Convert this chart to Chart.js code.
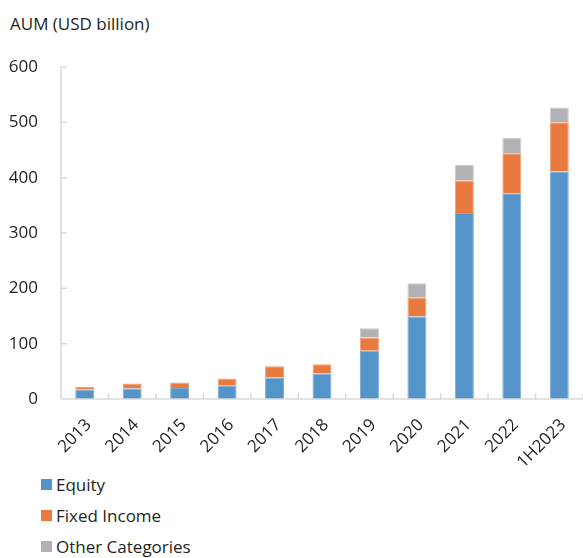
<!DOCTYPE html>
<html>
<head>
<meta charset="utf-8">
<script src="https://cdn.jsdelivr.net/npm/chart.js@4"></script>
<style>
  body { margin: 0; background: #fff; }
  #wrap { position: relative; width: 583px; height: 558px; font-family: "Open Sans", sans-serif; color: #231f20; }
  #box { position: absolute; left: 0; top: 0; width: 583px; height: 465px; }
  #title { position: absolute; left: 10px; top: 13px; font-size: 17px; line-height: 22px; }
  #legend { position: absolute; left: 41px; top: 469px; font-size: 17px; }
  .item { height: 31px; line-height: 24px; display: flex; align-items: center; }
  .item span.sw { display: inline-block; width: 11px; height: 11px; margin-right: 4px; }
</style>
</head>
<body>
<div id="wrap">
  <div id="title">AUM (USD billion)</div>
  <div id="box"><canvas id="myChart"></canvas></div>
  <div id="legend"></div>
</div>
<script>
// years on the x axis
const years = ['2013', '2014', '2015', '2016', '2017', '2018', '2019', '2020', '2021', '2022', '1H2023'];
// AUM by asset class, USD billion
const equity = [17, 19, 20, 24, 39, 46, 87, 149, 336, 372, 411];
const fixedIncome = [5, 9, 10, 13, 20, 17, 24, 34, 59, 72, 89];
const otherCategories = [0, 0, 0, 0, 0, 0, 17, 26, 28, 28, 27];
// y axis ticks
const yTicks = [0, 100, 200, 300, 400, 500, 600];

const axisColor = '#d9d9d9';
const textColor = '#231f20';

// short inner tick marks on both axes
const innerTicks = {
  id: 'innerTicks',
  afterDraw(chart) {
    const ctx = chart.ctx;
    const x = chart.scales.x;
    const y = chart.scales.y;
    const area = chart.chartArea;
    ctx.save();
    ctx.strokeStyle = axisColor;
    ctx.lineWidth = 1.5;
    ctx.beginPath();
    // y axis line and ticks
    ctx.moveTo(area.left, area.top);
    ctx.lineTo(area.left, area.bottom);
    yTicks.forEach(v => {
      const py = y.getPixelForValue(v);
      ctx.moveTo(area.left, py);
      ctx.lineTo(area.left + 6, py);
    });
    // x axis line and ticks between categories
    ctx.moveTo(area.left, area.bottom);
    ctx.lineTo(area.right, area.bottom);
    const step = (x.getPixelForValue(1) - x.getPixelForValue(0));
    for (let i = 0; i <= years.length; i++) {
      const px = x.getPixelForValue(0) - step / 2 + i * step;
      ctx.moveTo(px, area.bottom);
      ctx.lineTo(px, area.bottom - 6);
    }
    ctx.stroke();
    ctx.restore();
  }
};

const datasets = [
  { label: 'Equity', data: equity, backgroundColor: '#5594c8', borderColor: '#7aaad6' },
  { label: 'Fixed Income', data: fixedIncome, backgroundColor: '#e87a3f', borderColor: '#eea07a' },
  { label: 'Other Categories', data: otherCategories, backgroundColor: '#b1b2b5', borderColor: '#cacbcd' }
];

const ctx = document.getElementById('myChart').getContext('2d');
const chart = new Chart(ctx, {
  type: 'bar',
  data: {
    labels: years,
    datasets: datasets.map(d => Object.assign({
      borderWidth: 1,
      borderSkipped: 'bottom',
      categoryPercentage: 0.4,
      barPercentage: 1
    }, d))
  },
  options: {
    responsive: true,
    maintainAspectRatio: false,
    animation: false,
    layout: { padding: { top: 67, left: 0, right: 0, bottom: 0 } },
    plugins: {
      legend: { display: false },
      tooltip: { enabled: false }
    },
    scales: {
      x: {
        stacked: true,
        grid: { display: false, drawTicks: false },
        border: { display: false },
        ticks: {
          color: textColor,
          font: { family: 'Open Sans', size: 17 },
          minRotation: 45,
          maxRotation: 45,
          padding: 16,
          labelOffset: 4
        },
        afterFit(scale) {
          scale.height = 66;
          scale.paddingRight = 0;
        }
      },
      y: {
        stacked: true,
        min: 0,
        max: 600,
        grid: { display: false, drawTicks: false },
        border: { display: false },
        afterBuildTicks(scale) { scale.ticks = yTicks.map(v => ({ value: v })); },
        ticks: {
          color: textColor,
          font: { family: 'Open Sans', size: 17 },
          padding: 23
        },
        afterFit(scale) { scale.width = 61; }
      }
    }
  },
  plugins: [innerTicks]
});

// vertical legend under the chart
const legend = document.getElementById('legend');
datasets.forEach(d => {
  const row = document.createElement('div');
  row.className = 'item';
  const sw = document.createElement('span');
  sw.className = 'sw';
  sw.style.background = d.backgroundColor;
  row.appendChild(sw);
  row.appendChild(document.createTextNode(d.label));
  legend.appendChild(row);
});
</script>
</body>
</html>
